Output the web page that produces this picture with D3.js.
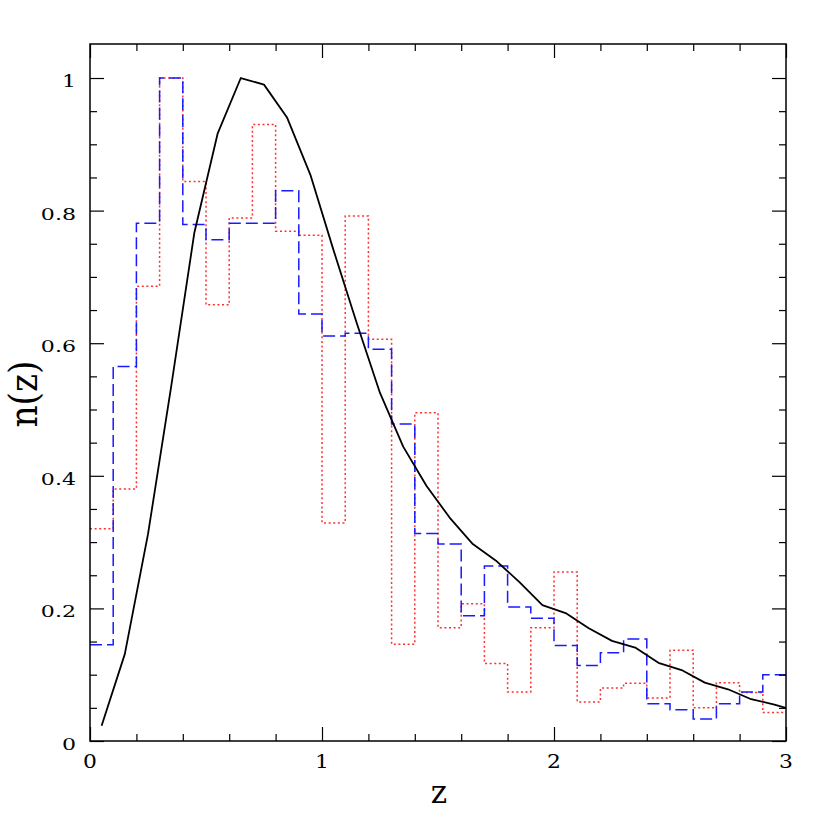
<!DOCTYPE html>
<html>
<head>
<meta charset="utf-8">
<script src="https://cdn.jsdelivr.net/npm/d3@7"></script>
<style>
  html, body { margin: 0; padding: 0; background: #fff; }
  text { font-family: "DejaVu Serif", "Liberation Serif", serif; fill: #000; }
</style>
</head>
<body>
<svg id="chart" width="830" height="830"></svg>
<script>
// Bin lower edges (width 0.1) from 0 to 2.9
const binStarts = d3.range(30).map(i => +(i * 0.1).toFixed(1));
const binWidth = 0.1;

// Blue dashed histogram values
const blueValues = [0.145, 0.565, 0.781, 1.0, 0.779, 0.756, 0.781, 0.781, 0.830, 0.644,
                    0.611, 0.615, 0.591, 0.478, 0.313, 0.297, 0.189, 0.264, 0.202, 0.185,
                    0.144, 0.114, 0.133, 0.154, 0.056, 0.047, 0.033, 0.056, 0.074, 0.100];

// Red dotted histogram values
const redValues = [0.320, 0.380, 0.686, 1.0, 0.844, 0.658, 0.789, 0.930, 0.769, 0.763,
                   0.329, 0.792, 0.606, 0.146, 0.495, 0.171, 0.207, 0.117, 0.074, 0.171,
                   0.255, 0.059, 0.080, 0.087, 0.065, 0.137, 0.050, 0.088, 0.073, 0.043];

// Black curve: sample points
const curveZ = [0.05, 0.15, 0.25, 0.35, 0.45, 0.55, 0.65, 0.75, 0.85, 0.95,
                1.05, 1.15, 1.25, 1.35, 1.45, 1.55, 1.65, 1.75, 1.85, 1.95,
                2.05, 2.15, 2.25, 2.35, 2.45, 2.55, 2.65, 2.75, 2.85, 2.95, 3.0];
const curveN = [0.023, 0.131, 0.312, 0.535, 0.767, 0.916, 1.0, 0.990, 0.940, 0.854,
                0.740, 0.630, 0.525, 0.444, 0.385, 0.337, 0.297, 0.272, 0.240, 0.205,
                0.193, 0.170, 0.151, 0.141, 0.118, 0.107, 0.088, 0.078, 0.063, 0.055, 0.050];

// Tick labels
const xTickLabels = [0, 1, 2, 3];
const yTickLabels = [0, 0.2, 0.4, 0.6, 0.8, 1];
const xLabel = "z";
const yLabel = "n(z)";

const svg = d3.select("#chart");
const L = 90, R = 786, T = 44, B = 741;

const x = d3.scaleLinear().domain([0, 3]).range([L, R]);
const y = d3.scaleLinear().domain([0, 1.0513]).range([B, T]);

svg.append("defs").append("clipPath").attr("id", "clip")
  .append("rect").attr("x", L).attr("y", T).attr("width", R - L).attr("height", B - T);

const plot = svg.append("g").attr("clip-path", "url(#clip)");

function histPoints(vals) {
  const pts = binStarts.map((b, i) => [b, vals[i]]);
  pts.push([binStarts[binStarts.length - 1] + binWidth, vals[vals.length - 1]]);
  return pts;
}
const stepLine = d3.line().x(d => x(d[0])).y(d => y(d[1])).curve(d3.curveStepAfter);

plot.append("path")
  .attr("d", stepLine(histPoints(redValues)))
  .attr("fill", "none")
  .attr("stroke", "#ff3030")
  .attr("stroke-width", 1.5)
  .attr("stroke-dasharray", "2,2.6");

plot.append("path")
  .attr("d", stepLine(histPoints(blueValues)))
  .attr("fill", "none")
  .attr("stroke", "#1a1aff")
  .attr("stroke-width", 1.5)
  .attr("stroke-dasharray", "12,5");

const curveLine = d3.line().x((d, i) => x(curveZ[i])).y((d, i) => y(curveN[i]));
plot.append("path")
  .attr("d", curveLine(curveZ))
  .attr("fill", "none")
  .attr("stroke", "#000")
  .attr("stroke-width", 1.8)
  .attr("stroke-linejoin", "round");

// Axes with inward ticks (major and minor) on all four sides
const xMajor = xTickLabels;
const xMinor = d3.range(0, 3.0001, 0.2).map(v => +v.toFixed(2)).filter(v => !xMajor.includes(v));
const yMajor = yTickLabels;
const yMinor = d3.range(0, 1.0001, 0.05).map(v => +v.toFixed(2)).filter(v => !yMajor.some(m => Math.abs(m - v) < 1e-6));

function addAxis(axisGen, transform) {
  const g = svg.append("g").attr("transform", transform).call(axisGen);
  g.select(".domain").remove();
  g.selectAll("line").attr("stroke", "#000").attr("stroke-width", 1.2);
  g.selectAll("text").remove();
  return g;
}

// bottom
addAxis(d3.axisTop(x).tickValues(xMajor).tickSize(14).tickFormat(""), `translate(0,${B})`);
addAxis(d3.axisTop(x).tickValues(xMinor).tickSize(7).tickFormat(""), `translate(0,${B})`);
// top
addAxis(d3.axisBottom(x).tickValues(xMajor).tickSize(14).tickFormat(""), `translate(0,${T})`);
addAxis(d3.axisBottom(x).tickValues(xMinor).tickSize(7).tickFormat(""), `translate(0,${T})`);
// left
addAxis(d3.axisRight(y).tickValues(yMajor).tickSize(14).tickFormat(""), `translate(${L},0)`);
addAxis(d3.axisRight(y).tickValues(yMinor).tickSize(7).tickFormat(""), `translate(${L},0)`);
// right
addAxis(d3.axisLeft(y).tickValues(yMajor).tickSize(14).tickFormat(""), `translate(${R},0)`);
addAxis(d3.axisLeft(y).tickValues(yMinor).tickSize(7).tickFormat(""), `translate(${R},0)`);

// frame
svg.append("rect").attr("x", L).attr("y", T).attr("width", R - L).attr("height", B - T)
  .attr("fill", "none").attr("stroke", "#000").attr("stroke-width", 1.5);

// tick labels
svg.append("g").selectAll("text").data(xTickLabels).join("text")
  .attr("transform", d => `translate(${x(d)},${B + 27}) scale(1.15,1)`)
  .attr("text-anchor", "middle")
  .attr("font-size", 19)
  .text(d => d);

svg.append("g").selectAll("text").data(yTickLabels).join("text")
  .attr("transform", d => `translate(${L - 14},${y(d) + 9}) scale(1.3,1)`)
  .attr("text-anchor", "end")
  .attr("font-size", 17)
  .text(d => d);

// axis titles
svg.append("text")
  .attr("x", 439).attr("y", 803)
  .attr("text-anchor", "middle")
  .attr("font-size", 31)
  .text(xLabel);

svg.append("text")
  .attr("transform", `translate(37,${394}) rotate(-90) scale(0.88,1)`)
  .attr("text-anchor", "middle")
  .attr("font-size", 39)
  .text(yLabel);
</script>
</body>
</html>
